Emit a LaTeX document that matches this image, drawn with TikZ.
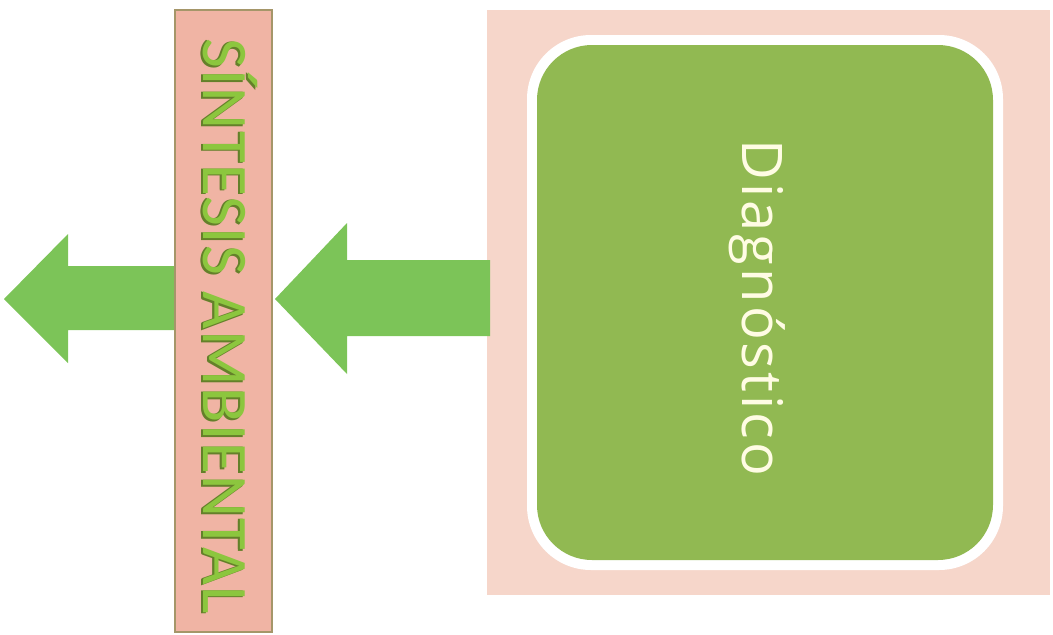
\documentclass[tikz,border=0pt]{standalone}
\usepackage{fontspec}
\newfontfamily\barfont{Carlito}[LetterSpace=2.2]
\newfontfamily\diagfont{Open Sans}[LetterSpace=5.5]
\definecolor{barfill}{RGB}{240,180,164}
\definecolor{barline}{RGB}{165,150,105}
\definecolor{outerpink}{RGB}{246,214,202}
\definecolor{innergreen}{RGB}{145,185,82}
\definecolor{arrowgreen}{RGB}{124,196,88}
\definecolor{txtgreen}{RGB}{140,198,62}
\definecolor{txtdark}{RGB}{100,128,42}
\definecolor{diagtext}{RGB}{255,252,228}
\tikzset{
  blockarrow/.style={fill=arrowgreen, draw=none},
  barbox/.style={rectangle, fill=barfill, draw=barline, line width=1.2pt, inner sep=0pt},
  bartext/.style={font=\barfont\fontsize{65}{70}\selectfont, inner sep=0pt, rotate=-90, anchor=base},
  diagtxt/.style={font=\diagfont\fontsize{56}{60}\selectfont, text=diagtext, inner sep=0pt, rotate=-90, anchor=base}
}
\begin{document}
\begin{tikzpicture}[x=1pt,y=-1pt]
\useasboundingbox (0,0) rectangle (1053,635);
% outer panel and rounded green box
\fill[outerpink] (487,10) rectangle (1050,595);
\fill[white, rounded corners=64pt] (527,35) rectangle (1003,570);
\node[fill=innergreen, rounded corners=55pt, minimum width=456pt, minimum height=515pt, inner sep=0pt] (diag) at (765,302.5) {};
% arrows
\fill[blockarrow] (490,260) -- (347,260) -- (347,223) -- (275,299) -- (347,374) -- (347,336) -- (490,336) -- cycle;
\fill[blockarrow] (176,266) -- (68,266) -- (68,234) -- (4,299) -- (68,363) -- (68,330) -- (176,330) -- cycle;
% bar
\node[barbox, minimum width=97pt, minimum height=622pt] (bar) at (223.5,321) {};
\node[bartext, text=txtdark] (barshadow) at (201,327.8) {SÍNTESIS AMBIENTAL};
\node[bartext, text=txtdark] (barshadowb) at (201.5,326) {SÍNTESIS AMBIENTAL};
\node[bartext, text=txtgreen] (bartxt) at (203,326) {SÍNTESIS AMBIENTAL};
% diagnostico text
\node[diagtxt] (diagtxt) at (742,308) {Diagnóstico};
\end{tikzpicture}
\end{document}
